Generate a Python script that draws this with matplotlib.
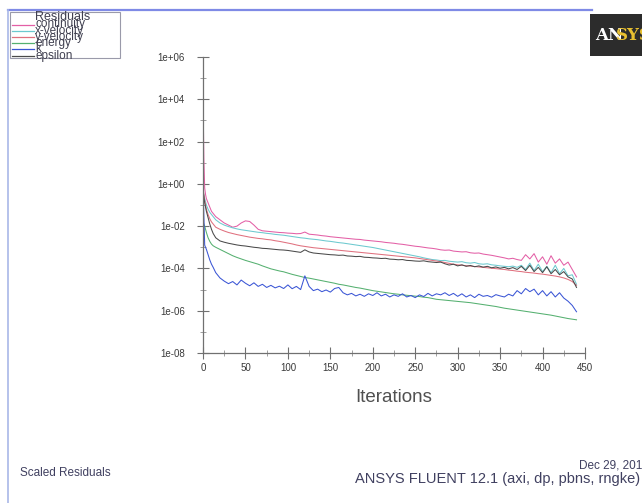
import numpy as np
import matplotlib
matplotlib.use("Agg")
import matplotlib.pyplot as plt
from matplotlib.lines import Line2D
from matplotlib.patches import Rectangle

plt.rcParams["font.family"] = ["Liberation Sans", "DejaVu Sans"]

iters = [0, 1, 2, 3, 4, 6, 8, 10, 12, 15] + list(range(20, 445, 5))

# log10 of the scaled residuals
continuity = [4.2, 1.2, -0.2, -0.5, -0.7, -0.9, -1.1, -1.3, -1.4, -1.55,
    -1.70, -1.85, -1.95, -2.05, -2.00, -1.85, -1.75, -1.78, -1.95, -2.15,
    -2.22, -2.24, -2.26, -2.28, -2.30, -2.31, -2.33, -2.34, -2.36, -2.35,
    -2.28, -2.38, -2.40, -2.42, -2.45, -2.47, -2.50, -2.52, -2.54, -2.56,
    -2.58, -2.60, -2.62, -2.63, -2.66, -2.68, -2.70, -2.72, -2.74, -2.77,
    -2.79, -2.81, -2.84, -2.86, -2.89, -2.92, -2.95, -2.97, -3.00, -3.03,
    -3.05, -3.08, -3.12, -3.14, -3.13, -3.18, -3.20, -3.22, -3.21, -3.26,
    -3.28, -3.27, -3.32, -3.35, -3.38, -3.42, -3.46, -3.50, -3.55, -3.52,
    -3.58, -3.62, -3.35, -3.55, -3.30, -3.70, -3.45, -3.80, -3.40, -3.75,
    -3.55, -3.85, -3.70, -4.05, -4.40]
x_velocity = [-0.3, -0.5, -0.7, -0.85, -1.0, -1.2, -1.35, -1.45, -1.55, -1.7,
    -1.85, -1.95, -2.02, -2.08, -2.13, -2.17, -2.20, -2.23, -2.26, -2.29,
    -2.31, -2.34, -2.36, -2.39, -2.41, -2.43, -2.46, -2.49, -2.52, -2.55,
    -2.57, -2.60, -2.62, -2.64, -2.67, -2.70, -2.72, -2.75, -2.78, -2.80,
    -2.83, -2.86, -2.89, -2.92, -2.95, -2.98, -3.01, -3.05, -3.09, -3.13,
    -3.17, -3.21, -3.25, -3.29, -3.33, -3.37, -3.41, -3.45, -3.50, -3.54,
    -3.58, -3.60, -3.63, -3.62, -3.66, -3.68, -3.70, -3.68, -3.73, -3.75,
    -3.72, -3.78, -3.80, -3.78, -3.83, -3.85, -3.88, -3.90, -3.92, -3.89,
    -3.95, -3.85, -4.05, -3.75, -4.10, -3.80, -4.15, -3.90, -4.20, -3.85,
    -4.25, -4.00, -4.35, -4.30, -4.75]
y_velocity = [-0.2, -0.5, -0.8, -1.0, -1.2, -1.45, -1.65, -1.8, -1.9, -2.05,
    -2.15, -2.23, -2.30, -2.35, -2.40, -2.44, -2.48, -2.52, -2.55, -2.58,
    -2.60, -2.63, -2.65, -2.69, -2.72, -2.76, -2.80, -2.84, -2.89, -2.93,
    -2.96, -2.99, -3.02, -3.04, -3.06, -3.08, -3.10, -3.12, -3.14, -3.16,
    -3.18, -3.20, -3.22, -3.24, -3.26, -3.28, -3.30, -3.32, -3.34, -3.36,
    -3.38, -3.40, -3.42, -3.44, -3.46, -3.48, -3.50, -3.53, -3.56, -3.59,
    -3.62, -3.65, -3.68, -3.72, -3.76, -3.80, -3.83, -3.85, -3.87, -3.89,
    -3.91, -3.93, -3.95, -3.97, -3.99, -4.01, -4.03, -4.05, -4.08, -4.10,
    -4.13, -4.15, -4.18, -4.20, -4.22, -4.25, -4.27, -4.30, -4.33, -4.36,
    -4.40, -4.45, -4.52, -4.62, -4.80]
energy = [-1.8, -1.9, -2.0, -2.15, -2.3, -2.55, -2.72, -2.85, -2.93, -3.0,
    -3.10, -3.20, -3.30, -3.40, -3.48, -3.55, -3.62, -3.68, -3.74, -3.80,
    -3.88, -3.95, -4.02, -4.07, -4.12, -4.16, -4.22, -4.28, -4.33, -4.38,
    -4.43, -4.46, -4.50, -4.54, -4.58, -4.62, -4.66, -4.70, -4.75, -4.78,
    -4.82, -4.86, -4.90, -4.93, -4.97, -5.01, -5.05, -5.08, -5.11, -5.14,
    -5.17, -5.20, -5.22, -5.25, -5.27, -5.29, -5.31, -5.33, -5.36, -5.38,
    -5.42, -5.46, -5.48, -5.50, -5.52, -5.54, -5.56, -5.58, -5.60, -5.62,
    -5.65, -5.68, -5.71, -5.74, -5.77, -5.80, -5.84, -5.88, -5.91, -5.94,
    -5.97, -6.00, -6.03, -6.06, -6.09, -6.12, -6.15, -6.18, -6.21, -6.25,
    -6.29, -6.33, -6.37, -6.40, -6.43]
k = [0.0, -1.5, -2.9, -3.0, -3.1, -3.35, -3.6, -3.8, -3.95, -4.2,
    -4.45, -4.60, -4.72, -4.62, -4.78, -4.55, -4.70, -4.82, -4.68, -4.85,
    -4.75, -4.90, -4.80, -4.92, -4.84, -4.95, -4.78, -4.96, -4.85, -5.00,
    -4.35, -4.85, -5.05, -4.98, -5.10, -5.02, -5.12, -4.95, -4.90, -5.15,
    -5.25, -5.18, -5.30, -5.22, -5.32, -5.20, -5.28, -5.15, -5.30, -5.22,
    -5.35, -5.25, -5.32, -5.20, -5.35, -5.28, -5.38, -5.25, -5.33, -5.18,
    -5.30, -5.20, -5.25, -5.15, -5.28, -5.18, -5.32, -5.20, -5.35, -5.25,
    -5.38, -5.22, -5.32, -5.28, -5.36, -5.24, -5.30, -5.35, -5.22, -5.30,
    -5.05, -5.20, -4.95, -5.10, -4.98, -5.25, -5.05, -5.30, -5.10, -5.35,
    -5.15, -5.40, -5.55, -5.75, -6.05]
epsilon = [-0.3, -0.6, -0.9, -1.1, -1.3, -1.6, -1.9, -2.15, -2.35, -2.55,
    -2.70, -2.76, -2.81, -2.85, -2.89, -2.92, -2.94, -2.97, -3.00, -3.02,
    -3.05, -3.06, -3.08, -3.10, -3.12, -3.13, -3.15, -3.18, -3.21, -3.24,
    -3.12, -3.22, -3.27, -3.29, -3.31, -3.33, -3.35, -3.36, -3.38, -3.37,
    -3.41, -3.42, -3.44, -3.43, -3.47, -3.48, -3.50, -3.51, -3.53, -3.52,
    -3.56, -3.57, -3.59, -3.58, -3.62, -3.63, -3.65, -3.66, -3.64, -3.68,
    -3.70, -3.72, -3.70, -3.78, -3.84, -3.80, -3.88, -3.83, -3.90, -3.86,
    -3.92, -3.88, -3.94, -3.90, -3.97, -3.93, -3.99, -3.95, -4.02, -3.96,
    -4.05, -3.90, -4.10, -3.85, -4.15, -3.95, -4.20, -3.92, -4.25, -4.05,
    -4.30, -4.15, -4.40, -4.50, -4.90]

labels = ["continuity", "x-velocity", "y-velocity", "energy", "k", "epsilon"]
series = [continuity, x_velocity, y_velocity, energy, k, epsilon]
colors = ["#e35fa6", "#6cc9cf", "#e0707e", "#55b070", "#3a55d5", "#4a4a4a"]

ytick_vals = [1e-08, 1e-06, 1e-04, 1e-02, 1e+00, 1e+02, 1e+04, 1e+06]
ytick_labels = ["1e-08", "1e-06", "1e-04", "1e-02", "1e+00", "1e+02", "1e+04", "1e+06"]
xtick_vals = [0, 50, 100, 150, 200, 250, 300, 350, 400, 450]

txt = "#3a3a3a"
fig = plt.figure(figsize=(6.42, 5.03), dpi=100)
fig.patch.set_facecolor("white")
ax = fig.add_axes([203 / 642, 1 - 353 / 503, 382 / 642, 296 / 503])

# fluent style plot: only left and bottom axis lines
for s, c in zip(series, colors):
    ax.plot(iters, np.power(10.0, s), color=c, lw=0.75)

ax.set_yscale("log")
ax.set_ylim(1e-08, 1e+06)
ax.set_xlim(0, 450)
ax.set_yticks(ytick_vals)
ax.set_yticklabels(ytick_labels)
ax.set_yticks([10.0 ** e for e in range(-8, 7)], minor=True)
ax.yaxis.set_minor_formatter(matplotlib.ticker.NullFormatter())
ax.set_xticks(xtick_vals)
ax.set_xticks(list(range(0, 451, 25)), minor=True)
for sp in ["top", "right"]:
    ax.spines[sp].set_visible(False)
for sp in ["left", "bottom"]:
    ax.spines[sp].set_color("#707070")
    ax.spines[sp].set_linewidth(0.9)
ax.tick_params(which="major", direction="inout", length=8, width=0.8,
               colors="#707070", labelcolor=txt, labelsize=7)
ax.tick_params(axis="y", which="major", pad=9)
ax.tick_params(axis="x", which="major", pad=3)
ax.tick_params(which="minor", direction="inout", length=4, width=0.6,
               colors="#909090")
ax.set_xlabel("Iterations", fontsize=13.5, color="#505050", labelpad=12)

# outer frame lines
fig.add_artist(Line2D([8 / 642, 592 / 642], [1 - 10 / 503, 1 - 10 / 503],
                      color="#7f8ae6", lw=1.6))
fig.add_artist(Line2D([8 / 642, 8 / 642], [0, 1 - 10 / 503],
                      color="#a9b8e8", lw=1.2))

# legend box, fluent style with overlapping rows
fig.add_artist(Rectangle((10 / 642, 1 - 58 / 503), 110 / 642, 46 / 503,
                         fill=False, edgecolor="#9a9aaa", lw=0.8))
fig.text(35 / 642, 1 - 17 / 503, "Residuals", fontsize=9, color="#404050",
         va="center", ha="left")
for i, (lab, c) in enumerate(zip(labels, colors)):
    yy = 1 - (24.5 + i * 6.2) / 503
    fig.add_artist(Line2D([12 / 642, 34 / 642], [yy, yy], color=c, lw=0.9))
    fig.text(35 / 642, yy, lab, fontsize=8.5, color="#404050",
             va="center", ha="left")

# ANSYS logo box (cut by the image edge)
fig.add_artist(Rectangle((590 / 642, 1 - 56 / 503), 60 / 642, 42 / 503,
                         facecolor="#2c2c2c", edgecolor="none"))
fig.text(595 / 642, 1 - 35 / 503, "AN", fontsize=12, color="white",
         fontweight="bold", family="DejaVu Serif", va="center")
fig.text(616 / 642, 1 - 35 / 503, "SYS", fontsize=12, color="#e8c030",
         fontweight="bold", family="DejaVu Serif", va="center")

# footer
fig.text(20 / 642, 1 - 473 / 503, "Scaled Residuals", fontsize=8.5,
         color="#404060", va="center")
fig.text(579 / 642, 1 - 466 / 503, "Dec 29, 2011", fontsize=8.5,
         color="#404060", va="center")
fig.text(355 / 642, 1 - 479 / 503, "ANSYS FLUENT 12.1 (axi, dp, pbns, rngke)",
         fontsize=10.5, color="#404060", va="center")

fig.savefig("out.png", dpi=100)
